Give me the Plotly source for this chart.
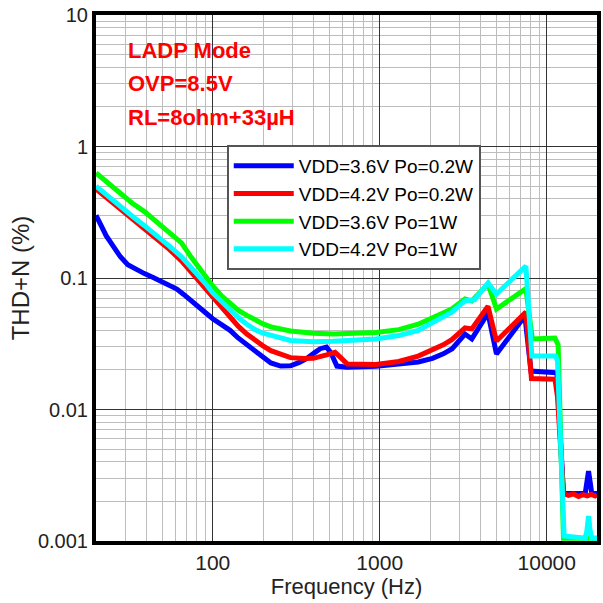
import plotly.graph_objects as go

# ---------------- data ----------------
blue_f = [20, 21, 22, 23, 24.5, 26, 28, 31, 35, 39, 44, 49, 55, 61, 67, 72, 80, 91, 100, 113, 127, 142,
          160, 179, 200, 223, 255, 292, 330, 369, 410, 440, 480, 510, 554, 634, 953, 1300, 1700, 2070,
          2400, 2716, 3240, 3560, 4450, 5000, 7400, 8050, 11000, 11500, 12600,
          17000, 17400, 17800, 18200, 18600, 20000]
blue_v = [0.30, 0.27, 0.235, 0.21, 0.185, 0.165, 0.145, 0.126, 0.115, 0.108, 0.101, 0.095, 0.089, 0.0824,
          0.075, 0.0692, 0.061, 0.0542, 0.049, 0.0447, 0.040, 0.035, 0.031, 0.0279, 0.025, 0.0226,
          0.0214, 0.0215, 0.0228, 0.0246, 0.0272, 0.029, 0.0298, 0.027, 0.0214, 0.0210, 0.0213, 0.022,
          0.023, 0.0245, 0.0265, 0.029, 0.0375, 0.0344, 0.054, 0.0264, 0.0514, 0.0196, 0.0192, 0.019,
          0.0023, 0.0023, 0.0028, 0.0034, 0.0028, 0.0023, 0.0023]

red_f = [20, 22, 25, 29, 33, 39, 46, 55, 65, 77, 91, 100, 113, 127, 142, 160, 179, 200, 223, 260, 292,
         350, 400, 480, 540, 580, 640, 950, 1300, 1700, 2070, 2400, 2700, 3240, 3560, 4450, 5000, 7500,
         8100, 11200, 11600, 12600,
         13500, 14500, 15500, 16500, 17500, 18500, 19500, 20000]
red_v = [0.475, 0.43, 0.38, 0.32, 0.28, 0.235, 0.20, 0.165, 0.135, 0.105, 0.082, 0.071, 0.060, 0.051,
         0.043, 0.0375, 0.0335, 0.0305, 0.028, 0.026, 0.0248, 0.0244, 0.0245, 0.026, 0.0272, 0.025,
         0.0222, 0.022, 0.0232, 0.0255, 0.0285, 0.031, 0.034, 0.0417, 0.041, 0.061, 0.0332, 0.055,
         0.0172, 0.0170, 0.0125, 0.0023,
         0.00222, 0.00228, 0.00218, 0.00225, 0.0022, 0.00226, 0.0022, 0.00224]

green_f = [20, 22, 25, 29, 33, 39, 46, 55, 65, 74, 77, 91, 100, 113, 127, 142, 160, 179, 200, 223, 260,
           292, 400, 530, 950, 1300, 1700, 2070, 2400, 2700, 3240, 3560, 4450, 5000, 7500, 8200, 11200,
           11700, 12600, 20000]
green_v = [0.63, 0.57, 0.49, 0.42, 0.37, 0.32, 0.27, 0.225, 0.185, 0.145, 0.135, 0.102, 0.087, 0.073,
           0.064, 0.057, 0.052, 0.048, 0.0448, 0.0425, 0.0405, 0.0395, 0.038, 0.0375, 0.0385, 0.0405,
           0.0445, 0.0497, 0.054, 0.058, 0.0692, 0.0669, 0.090, 0.0581, 0.083, 0.0344, 0.035, 0.031,
           0.00105, 0.00105]

cyan_f = [20, 22, 25, 29, 33, 39, 46, 55, 65, 77, 91, 100, 113, 127, 142, 160, 179, 200, 223, 260, 292,
          400, 530, 950, 1300, 1700, 2070, 2400, 2700, 3240, 3700, 4450, 5000, 7500, 8150, 11300, 11600,
          12700, 17000, 17400, 17800, 18200, 18600, 20000]
cyan_v = [0.50, 0.45, 0.40, 0.335, 0.295, 0.25, 0.212, 0.175, 0.145, 0.115, 0.090, 0.077, 0.066, 0.057,
          0.050, 0.0445, 0.0405, 0.038, 0.0365, 0.0345, 0.0335, 0.0328, 0.0330, 0.0344, 0.0365, 0.040,
          0.0455, 0.050, 0.055, 0.0669, 0.0685, 0.0917, 0.0756, 0.123, 0.0255, 0.0255, 0.0235,
          0.00109, 0.00105, 0.0012, 0.00155, 0.0012, 0.00105, 0.00105]

series_names = ["VDD=3.6V Po=0.2W", "VDD=4.2V Po=0.2W", "VDD=3.6V Po=1W", "VDD=4.2V Po=1W"]
series_colors = ["#0000ff", "#ff0000", "#00ff00", "#00ffff"]

x_ticks = [100, 1000, 10000]
x_tick_text = ["100", "1000", "10000"]
y_ticks = [0.001, 0.01, 0.1, 1, 10]
y_tick_text = ["0.001", "0.01", "0.1", "1", "10"]

notes = ["LADP Mode", "OVP=8.5V", "RL=8ohm+33µH"]

# ---------------- figure ----------------
FONT = "Arial, Liberation Sans, sans-serif"
fig = go.Figure()
for f, v, name, col in zip([blue_f, red_f, green_f, cyan_f], [blue_v, red_v, green_v, cyan_v],
                           series_names, series_colors):
    fig.add_trace(go.Scatter(x=f, y=v, mode="lines", name=name,
                             line=dict(color=col, width=5)))

axis_common = dict(
    type="log", showline=True, linecolor="black", linewidth=4, mirror=True,
    showgrid=True, gridcolor="#333333", gridwidth=1, zeroline=False,
    ticks="", ticklen=0,
    minor=dict(dtick="D1", showgrid=True, gridcolor="#bdbdbd", gridwidth=1, ticks=""),
)

fig.update_xaxes(**axis_common, range=[1.30103, 4.30103], tickmode="array",
                 tickvals=x_ticks, ticktext=x_tick_text,
                 tickfont=dict(family=FONT, size=21, color="#222222"),
                 title=dict(text="Frequency (Hz)", font=dict(family=FONT, size=22, color="#222222"),
                            standoff=6))
fig.update_yaxes(**axis_common, range=[-3, 1], tickmode="array",
                 tickvals=y_ticks, ticktext=y_tick_text,
                 tickfont=dict(family=FONT, size=20, color="#222222"),
                 title=dict(text="THD+N (%)", font=dict(family=FONT, size=24, color="#222222"),
                            standoff=3))

for i, t in enumerate(notes):
    fig.add_annotation(text="<b>%s</b>" % t, xref="paper", yref="paper",
                       x=0.059, y=0.932 - i * 0.063, xanchor="left", yanchor="middle",
                       showarrow=False, font=dict(family=FONT, size=22, color="#ff0000"))

fig.update_layout(
    width=603, height=603,
    margin=dict(l=96, r=2, t=15, b=62),
    paper_bgcolor="white", plot_bgcolor="white",
    showlegend=True,
    legend=dict(x=0.261, y=0.753, xanchor="left", yanchor="top",
                bgcolor="white", bordercolor="#555555", borderwidth=2,
                font=dict(family=FONT, size=19, color="black"),
                tracegroupgap=0, itemwidth=60),
)

fig.write_html("out.html", config={"displayModeBar": False},
               post_script="document.body.style.margin='0';")
